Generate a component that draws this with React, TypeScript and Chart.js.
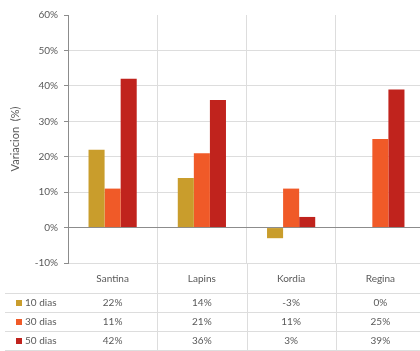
import { useEffect, useRef } from 'react';
import { Chart, registerables } from 'chart.js';

Chart.register(...registerables);

// Cherry varieties and percentage change per storage period
const categories = ['Santina', 'Lapins', 'Kordia', 'Regina'];
const seriesNames = ['10 dias', '30 dias', '50 dias'];
const dias10 = [22, 14, -3, 0];
const dias30 = [11, 21, 11, 25];
const dias50 = [42, 36, 3, 39];
const yMin = -10;
const yMax = 60;
const yStep = 10;

const colors = ['#C99D2C', '#F05A28', '#C0231D'];
const textColor = '#595959';
const gridColor = '#DDDDDD';
const axisColor = '#8C8C8C';
const fontFamily = 'Lato, "Open Sans", sans-serif';

const W = 426;
const H = 351;

// Data table under the plot: header row drawn by the x axis, value rows here
const dataTablePlugin = {
  id: 'dataTable',
  afterDraw(chart: any) {
    const { ctx, chartArea, scales } = chart;
    const x = scales.x;
    const series = [dias10, dias30, dias50];
    const top = chartArea.bottom;
    const headerH = 30;
    const rowH = 19;
    const colW = x.getPixelForValue(1) - x.getPixelForValue(0);
    ctx.save();
    ctx.strokeStyle = gridColor;
    ctx.lineWidth = 1;
    // vertical borders between columns
    for (let i = 1; i <= categories.length; i++) {
      const px = Math.round(x.getPixelForValue(i) - colW / 2) + 0.5;
      ctx.beginPath();
      ctx.moveTo(px, top);
      ctx.lineTo(px, H);
      ctx.stroke();
    }
    // horizontal row borders
    for (let r = 0; r <= series.length; r++) {
      const py = Math.round(top + headerH + r * rowH) + 0.5;
      ctx.beginPath();
      ctx.moveTo(5, py);
      ctx.lineTo(W, py);
      ctx.stroke();
    }
    ctx.font = `10px ${fontFamily}`;
    ctx.textBaseline = 'middle';
    series.forEach((vals, r) => {
      const cy = top + headerH + r * rowH + rowH / 2;
      // legend key
      ctx.fillStyle = colors[r];
      ctx.fillRect(16, Math.round(cy - 3), 6, 6);
      ctx.fillStyle = textColor;
      ctx.textAlign = 'left';
      ctx.fillText(seriesNames[r], 25, cy);
      ctx.textAlign = 'center';
      vals.forEach((v, i) => {
        ctx.fillText(`${v}%`, x.getPixelForValue(i), cy);
      });
    });
    ctx.restore();
  },
};

export default function App() {
  const ref = useRef<HTMLCanvasElement>(null);

  useEffect(() => {
    const chart = new Chart(ref.current!, {
      type: 'bar',
      data: {
        labels: categories,
        datasets: [dias10, dias30, dias50].map((d, i) => ({
          label: seriesNames[i],
          data: d,
          backgroundColor: colors[i],
          borderWidth: 0,
          categoryPercentage: 0.54,
          barPercentage: 1.0,
        })),
      },
      options: {
        responsive: false,
        animation: false,
        devicePixelRatio: 1,
        layout: { padding: { top: 15, right: 1, left: 0, bottom: 0 } },
        plugins: {
          legend: { display: false },
          tooltip: { enabled: false },
        },
        scales: {
          x: {
            grid: {
              offset: true,
              color: gridColor,
              drawTicks: false,
            },
            border: { color: gridColor },
            ticks: {
              padding: 10,
              color: textColor,
              font: { family: fontFamily, size: 10 },
            },
            afterFit(scale: any) {
              scale.height = 88;
            },
          },
          y: {
            min: yMin,
            max: yMax,
            ticks: {
              stepSize: yStep,
              padding: 6,
              color: textColor,
              font: { family: fontFamily, size: 10 },
              callback: (v: any) => `${v}%`,
            },
            grid: {
              color: (c: any) =>
                c.tick && c.tick.value === 0
                  ? axisColor
                  : c.tick && c.tick.value === yMax
                  ? 'rgba(0,0,0,0)'
                  : gridColor,
              tickColor: axisColor,
              tickLength: 4,
            },
            border: { color: axisColor },
            title: {
              display: true,
              text: 'Variacion  (%)',
              color: textColor,
              font: { family: fontFamily, size: 11 },
              padding: { top: 9, bottom: 0 },
            },
            afterFit(scale: any) {
              scale.width = 68;
            },
          },
        },
      },
      plugins: [dataTablePlugin],
    });
    return () => chart.destroy();
  }, []);

  return (
    <div
      style={{
        position: 'fixed',
        left: 0,
        top: 0,
        width: 420,
        height: 351,
        overflow: 'hidden',
        background: '#fff',
      }}
    >
      <canvas ref={ref} width={W} height={H} style={{ display: 'block' }} />
    </div>
  );
}
